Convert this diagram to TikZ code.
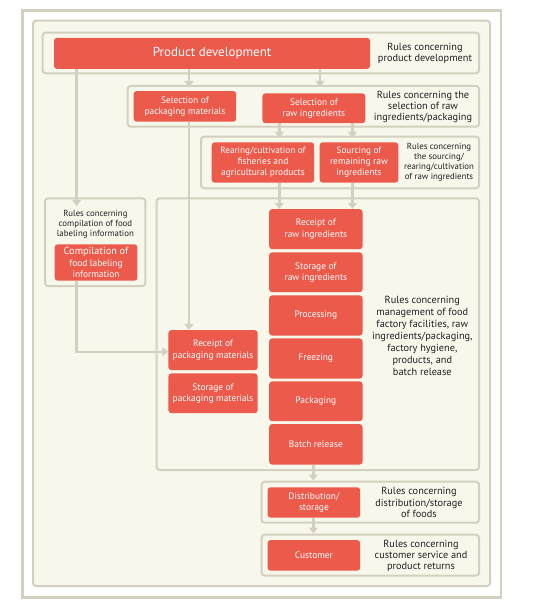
\documentclass[tikz,border=0pt]{standalone}
\usepackage{fontspec}
\setmainfont{PT Sans}
\usetikzlibrary{arrows.meta}
\definecolor{boxred}{HTML}{EB5A4B}
\definecolor{cream}{HTML}{F8F7EC}
\definecolor{greyline}{HTML}{D4D0C0}
\definecolor{txt}{HTML}{231F20}
\tikzset{
  redbox/.style={rectangle, rounded corners=3bp, fill=boxred, text=white, align=center,
    inner sep=0pt, font=\fontsize{9.4bp}{11.2bp}\selectfont},
  grp/.style={draw=greyline, line width=2bp, rounded corners=3bp, fill=cream},
  rules/.style={text=txt, align=center, inner sep=0pt, font=\fontsize{10.3bp}{11.3bp}\selectfont},
  smallrules/.style={text=txt, align=center, inner sep=0pt, font=\fontsize{8.8bp}{10bp}\selectfont},
  conn/.style={draw=greyline, line width=2.4bp, -{Triangle[width=9bp,length=6bp]}},
}
\newcommand{\rbox}[7]{% name, x1, x2, y1, y2, text
  \node[redbox, minimum width={#3-#2}, minimum height={#5-#4}] (#1) at ({(#2+#3)/2},{(#4+#5)/2}) {#6};}
\begin{document}
\begin{tikzpicture}[x=1bp,y=-1bp]
\useasboundingbox (0,0) rectangle (534,608);
% outer frame and panel
\draw[draw=greyline, line width=2.4bp, fill=white] (22.5,10.7) rectangle (501,597.5);
\draw[grp] (33,20.7) rectangle (490,586);
% groups
\draw[grp] (42.6,32.7) rectangle (479,73.3);
\draw[grp] (127.7,86) rectangle (479,126.7);
\draw[grp] (201,136.7) rectangle (479,188.3);
\draw[grp] (45,198.3) rectangle (145.4,286);
\draw[grp] (156.7,198.3) rectangle (479,470);
\draw[grp] (261.6,481.7) rectangle (479,522.7);
\draw[grp] (261.6,534.7) rectangle (479,575.5);
% red boxes
\rbox{pd}{53.5}{370.6}{37.7}{69}{\fontsize{13bp}{14bp}\selectfont Product development}{}
\rbox{selpkg}{133.5}{236.4}{91}{121.7}{Selection of\\packaging materials}{}
\rbox{selraw}{262.3}{365.5}{93.3}{123.3}{Selection of\\raw ingredients}{}
\rbox{rear}{211.5}{314.4}{142.3}{182.7}{\fontsize{9.2bp}{10.8bp}\selectfont Rearing/cultivation of\\fisheries and\\agricultural products}{}
\rbox{src}{319.5}{398.5}{142.3}{182.7}{\fontsize{9.2bp}{10.8bp}\selectfont Sourcing of\\remaining raw\\ingredients}{}
\rbox{comp}{54.5}{137.6}{244.3}{280.7}{\fontsize{10.3bp}{10.7bp}\selectfont Compilation of\\food labeling\\information}{}
\rbox{rr}{269}{362.7}{209}{249.3}{Receipt of\\raw ingredients}{}
\rbox{sr}{269}{362.7}{252.3}{292.3}{Storage of\\raw ingredients}{}
\rbox{proc}{269}{362.7}{295.3}{335.7}{Processing}{}
\rbox{frz}{269}{362.7}{338.3}{378.7}{Freezing}{}
\rbox{pack}{269}{362.7}{381.3}{421.3}{Packaging}{}
\rbox{batch}{269}{362.7}{424}{464.7}{Batch release}{}
\rbox{rp}{168.3}{257.8}{330}{370.3}{Receipt of\\packaging materials}{}
\rbox{sp}{168.3}{257.8}{373.3}{413.3}{Storage of\\packaging materials}{}
\rbox{dist}{267.4}{360.4}{487.3}{517.7}{Distribution/\\storage}{}
\rbox{cust}{267.4}{360.4}{540}{570.7}{Customer}{}
% rules texts
\node[rules] (tpd) at (425,53.3) {Rules concerning\\product development};
\node[rules] (tsel) at (423,107) {Rules concerning the\\selection of raw\\ingredients/packaging};
\node[smallrules] (tsrc) at (439,162) {Rules concerning\\the sourcing/\\rearing/cultivation\\of raw ingredients};
\node[smallrules] (tfood) at (95.4,224) {Rules concerning\\compilation of food\\labeling information};
\node[rules, font=\fontsize{10.3bp}{11.9bp}\selectfont] (tmgmt) at (422.3,336) {Rules concerning\\management of food\\factory facilities, raw\\ingredients/packaging,\\factory hygiene,\\products, and\\batch release};
\node[rules] (tdist) at (419,502.7) {Rules concerning\\distribution/storage\\of foods};
\node[rules] (tcust) at (421,555.8) {Rules concerning\\customer service and\\product returns};
% free ends of connectors
\coordinate (efood) at (76.6,206);
\coordinate (esel1) at (189,87);
\coordinate (esel2) at (320,87);
\coordinate (esrc1) at (279.3,137.7);
\coordinate (esrc2) at (352.5,137.7);
\coordinate (erp) at (189,328);
\coordinate (elab) at (76.6,351.7);
\coordinate (edist) at (313.4,480.5);
\coordinate (ecust) at (313.4,533.5);
% connectors
\draw[conn] (pd.south -| efood) -- (efood);
\draw[conn] (pd.south -| esel1) -- (esel1);
\draw[conn] (pd.south -| esel2) -- (esel2);
\draw[conn] (selraw.south -| esrc1) -- (esrc1);
\draw[conn] (selraw.south -| esrc2) -- (esrc2);
\draw[conn] (rear.south -| esrc1) -- (rr.north -| esrc1);
\draw[conn] (src.south -| esrc2) -- (rr.north -| esrc2);
\draw[conn] (selpkg.south -| erp) -- (rp.north -| erp);
\draw[conn] (comp.south -| elab) -- (elab) -- (rp.west |- elab);
\draw[conn] (batch.south -| edist) -- (edist);
\draw[conn] (dist.south -| ecust) -- (ecust);
\end{tikzpicture}
\end{document}
